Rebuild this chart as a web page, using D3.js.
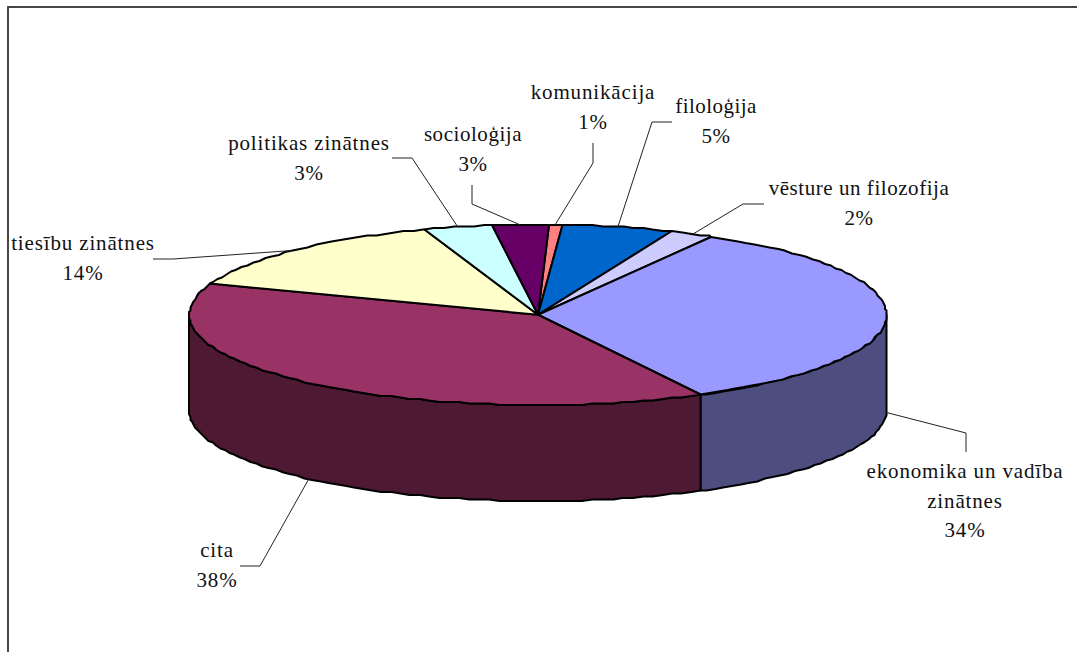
<!DOCTYPE html>
<html lang="lv">
<head>
    <meta charset="UTF-8">
    <title>Pie</title>
    <style>
        body{
            margin: 0;
            background-color: #fff;
        }
        svg{
            display: block;
        }
        text{
            font-family: "Liberation Serif", serif;
            font-size: 21px;
            fill: #111;
            text-anchor: middle;
        }
    </style>
</head>
<body>

<div id="chart"></div>

<script src="https://cdn.jsdelivr.net/npm/d3@7"></script>
<script>
    var categories = ['komunikācija', 'filoloģija', 'vēsture un filozofija', 'ekonomika un vadība zinātnes',
        'cita', 'tiesību zinātnes', 'politikas zinātnes', 'socioloģija'];
    var values = [0.6, 5.2, 2, 34, 38.2, 14.2, 3.2, 2.6];
    var topColors = ['#ff8080', '#0066cc', '#ccccff', '#9999ff', '#993366', '#ffffcc', '#ccffff', '#660066'];
    var sideColors = ['#804040', '#003366', '#666680', '#4d4d80', '#4d1933', '#808066', '#668080', '#330033'];

    // where each label sits: text lines, centre x, first baseline, spacing, leader elbow points
    var labelLines = [['komunikācija'], ['filoloģija'], ['vēsture un filozofija'], ['ekonomika un vadība', 'zinātnes'],
        ['cita'], ['tiesību zinātnes'], ['politikas zinātnes'], ['socioloģija']];
    var labelX = [593, 716, 859, 965, 217, 83, 309, 473];
    var labelY = [99, 113, 195, 478, 557, 250, 150, 141];
    var labelSpacing = [0.85, 0.45, 0.55, 0.85, 0.85, 0.85, 0.85, 0.55];
    var elbows = [
        [[593, 163], [593, 143]],
        [[652, 122], [672, 122]],
        [[743, 204], [764, 204]],
        [[966, 433], [966, 452]],
        [[260, 566], [240, 566]],
        [[173, 259], [153, 259]],
        [[412, 158], [392, 158]],
        [[472, 204], [472, 185]]
    ];

    var width = 1077, height = 652;
    var depth = 96;
    var start = 1.8 * Math.PI / 180;

    var svg = d3.select('#chart')
        .append('svg')
        .attr('width', width)
        .attr('height', height);

    // plot frame, runs off the right and bottom of the picture
    svg.append('rect')
        .attr('x', 8)
        .attr('y', 7)
        .attr('width', 1200)
        .attr('height', 800)
        .attr('fill', 'none')
        .attr('stroke', '#333')
        .attr('stroke-width', 1.8);

    var xScale = d3.scaleLinear().domain([-1, 1]).range([189.5, 886.5]);
    var yScale = d3.scaleLinear().domain([-1, 1]).range([224.5, 405]);

    var pie = d3.pie().sort(null).startAngle(start).endAngle(start + 2 * Math.PI);
    var arcs = pie(values);

    var line = d3.line();

    // rim point, snapped to a coarse grid which gives the rough old office edge
    function rim(a, dy) {
        return [Math.round(xScale(Math.sin(a)) / 1.5) * 1.5, Math.round(yScale(-Math.cos(a)) / 1.5) * 1.5 + (dy || 0)];
    }

    function rimPoints(a0, a1, dy) {
        var step = 1.7 * Math.PI / 180;
        var pts = d3.range(a0, a1, step).map(function(a) {
            return rim(a, dy);
        });
        pts.push(rim(a1, dy));
        return pts;
    }

    // side walls, only the front half of the disc shows
    arcs.forEach(function(d, i) {
        var a0 = Math.max(d.startAngle, Math.PI / 2);
        var a1 = Math.min(d.endAngle, 3 * Math.PI / 2);
        if (a1 <= a0) return;
        var upper = rimPoints(a0, a1, 0);
        var lower = rimPoints(a0, a1, depth).reverse();
        svg.append('path')
            .attr('d', line(upper.concat(lower)) + 'Z')
            .attr('fill', sideColors[i])
            .attr('stroke', '#000')
            .attr('stroke-width', 2)
            .attr('stroke-linejoin', 'round');
    });

    // top slices
    var centre = [xScale(0), yScale(0)];
    svg.selectAll('.slice')
        .data(arcs)
        .enter()
        .append('path')
        .attr('class', 'slice')
        .attr('d', function(d) {
            return line([centre].concat(rimPoints(d.startAngle, d.endAngle, 0))) + 'Z';
        })
        .attr('fill', function(d, i) {
            return topColors[i];
        })
        .attr('stroke', '#000')
        .attr('stroke-width', 2)
        .attr('stroke-linejoin', 'round');

    // leaders start on the rim at the middle of the slice, or on the wall when in front
    svg.selectAll('.leader')
        .data(arcs)
        .enter()
        .append('path')
        .attr('class', 'leader')
        .attr('d', function(d, i) {
            var mid = (d.startAngle + d.endAngle) / 2;
            var inFront = Math.cos(mid) < 0;
            return line([rim(mid, inFront ? depth : 0)].concat(elbows[i]));
        })
        .attr('fill', 'none')
        .attr('stroke', '#222')
        .attr('stroke-width', 1);

    // labels
    var labels = svg.selectAll('.label')
        .data(arcs)
        .enter()
        .append('text')
        .attr('class', 'label')
        .attr('letter-spacing', function(d, i) {
            return labelSpacing[i];
        })
        .attr('y', function(d, i) {
            return labelY[i];
        });

    labels.each(function(d, i) {
        var t = d3.select(this);
        labelLines[i].concat([Math.round(d.value) + '%']).forEach(function(s, j) {
            t.append('tspan')
                .attr('x', labelX[i])
                .attr('dy', j === 0 ? 0 : 29.5)
                .text(s);
        });
    });
</script>

</body>
</html>
